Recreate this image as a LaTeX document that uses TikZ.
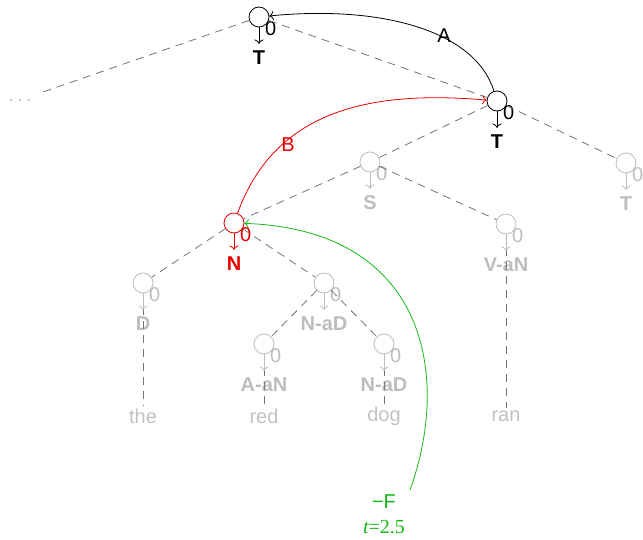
\documentclass[tikz,border=0pt]{standalone}
\usepackage{fontspec}
\setmainfont{Liberation Sans}
\newfontfamily\timesfont{Liberation Serif}
\usepackage{xcolor}
\usepackage{tikz}
\usetikzlibrary{positioning, arrows.meta}

\definecolor{inact}{gray}{0.74}
\definecolor{wordgray}{gray}{0.76}
\definecolor{edgegray}{gray}{0.45}
\definecolor{arcgreen}{RGB}{20,185,20}
\definecolor{arcred}{RGB}{235,0,0}

\begin{document}
\begin{tikzpicture}[x=1pt, y=-1pt, line width=0.8pt, >={To[scale=1.3]},
    font=\fontsize{20}{23}\selectfont,
    tree node/.style={circle, draw, fill=white, minimum size=20pt, inner sep=0pt},
    cat label/.style={font=\fontsize{20}{23}\selectfont\bfseries, inner sep=0pt},
    zero label/.style={inner sep=0pt},
    word/.style={text=wordgray, inner sep=2pt},
    grey line/.style={draw=inact},
    grey text/.style={text=inact},
    red line/.style={draw=arcred},
    red text/.style={text=arcred},
    edge/.style={dash pattern=on 8pt off 6pt, edgegray},
    down arrow/.style={->}
]
\useasboundingbox (0,0) rectangle (643,540);

% tree nodes
\node[tree node] (cTop) at (259,17) {};
\node[tree node] (cTr) at (497,101) {};
\node[tree node, grey line] (cTf) at (626,163) {};
\node[tree node, grey line] (cS) at (370,162) {};
\node[tree node, red line] (cN) at (234,223) {};
\node[tree node, grey line] (cV) at (506,224) {};
\node[tree node, grey line] (cD) at (143,283) {};
\node[tree node, grey line] (cNa) at (324,283) {};
\node[tree node, grey line] (cA) at (264,344) {};
\node[tree node, grey line] (cNb) at (384,344) {};

% zero marks
\node[zero label, below right=-3.3pt and -1.7pt of cTop] (zTop) {0};
\node[zero label, below right=-3.3pt and -1.7pt of cTr] (zTr) {0};
\node[zero label, grey text, below right=-3.3pt and -1.7pt of cTf] (zTf) {0};
\node[zero label, grey text, below right=-3.3pt and -1.7pt of cS] (zS) {0};
\node[zero label, red text, below right=-3.3pt and -1.7pt of cN] (zN) {0};
\node[zero label, grey text, below right=-3.3pt and -1.7pt of cV] (zV) {0};
\node[zero label, grey text, below right=-3.3pt and -1.7pt of cD] (zD) {0};
\node[zero label, grey text, below right=-3.3pt and -1.7pt of cNa] (zNa) {0};
\node[zero label, grey text, below right=-3.3pt and -1.7pt of cA] (zA) {0};
\node[zero label, grey text, below right=-3.3pt and -1.7pt of cNb] (zNb) {0};

% categories
\node[cat label, below=22.5pt of cTop] (lTop) {T};
\node[cat label, below=22.5pt of cTr] (lTr) {T};
\node[cat label, grey text, below=22.5pt of cTf] (lTf) {T};
\node[cat label, grey text, below=22.5pt of cS] (lS) {S};
\node[cat label, red text, below=22.5pt of cN] (lN) {N};
\node[cat label, grey text, below=22.5pt of cV] (lV) {V-aN};
\node[cat label, grey text, below=22.5pt of cD] (lD) {D};
\node[cat label, grey text, below=22.5pt of cNa] (lNa) {N-aD};
\node[cat label, grey text, below=22.5pt of cA] (lA) {A-aN};
\node[cat label, grey text, below=22.5pt of cNb] (lNb) {N-aD};

% words
\node[word] (wThe) at (143,416) {the};
\node[word] (wRed) at (264,416) {red};
\node[word] (wDog) at (384,416) {dog};
\node[word] (wRan) at (506,416) {ran};
\node[word, inner sep=8pt] (dots) at (20,100) {.\,.\,.};

% dashed tree edges
\foreach \a/\b in {cTop/dots, cTop/cTr, cTr/cS, cTr/cTf, cS/cN, cS/cV,
    cN/cD, cN/cNa, cNa/cA, cNa/cNb, cD/wThe, cA/wRed, cNb/wDog, cV/wRan}
    \draw[edge] (\a) -- (\b);

% arrows to categories
\draw[down arrow] (cTop) -- ([yshift=6pt]lTop.north);
\draw[down arrow] (cTr) -- ([yshift=6pt]lTr.north);
\draw[down arrow, grey line] (cTf) -- ([yshift=6pt]lTf.north);
\draw[down arrow, grey line] (cS) -- ([yshift=6pt]lS.north);
\draw[down arrow, red line] (cN) -- ([yshift=6pt]lN.north);
\draw[down arrow, grey line] (cV) -- ([yshift=6pt]lV.north);
\draw[down arrow, grey line] (cD) -- ([yshift=6pt]lD.north);
\draw[down arrow, grey line] (cNa) -- ([yshift=6pt]lNa.north);
\draw[down arrow, grey line] (cA) -- ([yshift=6pt]lA.north);
\draw[down arrow, grey line] (cNb) -- ([yshift=6pt]lNb.north);

% arcs
\draw[->] (cTr) .. controls (475,30) and (380,5) .. (cTop);
\node (arcA) at (444,36) {A};

\draw[->, arcred] (cN) .. controls (275,110) and (370,90) .. (cTr);
\node[red text] (arcB) at (288,145) {B};

\coordinate (fStart) at (410,490);
\draw[->, arcgreen] (fStart) .. controls (450,380) and (430,230) .. (cN);
\node[text=arcgreen, align=center, inner sep=0pt] (fLab) at (384,514)
    {−F\\[2pt]{\timesfont\itshape t}{\timesfont =2.5}};

\end{tikzpicture}
\end{document}
